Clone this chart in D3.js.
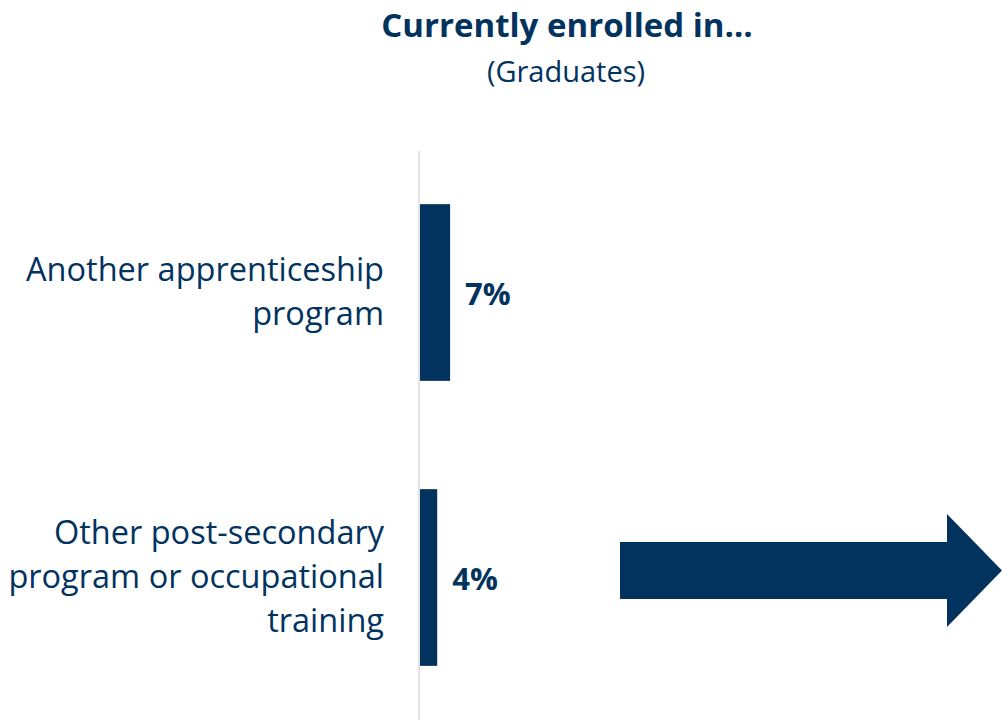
<!DOCTYPE html>
<html>
<head>
<meta charset="utf-8">
<script src="https://cdn.jsdelivr.net/npm/d3@7"></script>
<style>
  html, body { margin: 0; padding: 0; background: #ffffff; }
  svg { display: block; }
  text { font-family: "Open Sans", sans-serif; }
</style>
</head>
<body>
<svg id="chart" width="1002" height="720"></svg>
<script>
// ---- data ----
const categories = [
  ["Another apprenticeship", "program"],
  ["Other post-secondary", "program or occupational", "training"]
];
const values = [7, 4];
const valueLabels = ["7%", "4%"];
const titleText = "Currently enrolled in\u2026";
const subtitleText = "(Graduates)";

// ---- layout ----
const W = 1002, H = 720;
const navy = "#02335F";
const axisX = 420;
const plotTop = 150, plotBottom = 720;

const svg = d3.select("#chart");

const y = d3.scaleBand()
  .domain(d3.range(categories.length))
  .range([plotTop, plotBottom])
  .paddingInner(0.38)
  .paddingOuter(0.19);

const x = d3.scaleLinear().domain([0, 100]).range([axisX, axisX + 430]);

// title
svg.append("text")
  .attr("x", 567).attr("y", 37)
  .attr("text-anchor", "middle")
  .attr("font-size", 33).attr("font-weight", 700)
  .attr("fill", navy)
  .text(titleText);

svg.append("text")
  .attr("x", 566).attr("y", 82)
  .attr("text-anchor", "middle")
  .attr("font-size", 29)
  .attr("fill", navy)
  .text(subtitleText);

// bars
svg.selectAll("rect.bar")
  .data(values)
  .join("rect")
  .attr("class", "bar")
  .attr("x", x(0))
  .attr("y", (d, i) => y(i))
  .attr("width", d => x(d) - x(0))
  .attr("height", y.bandwidth())
  .attr("fill", navy);

// axis line (category axis, no ticks)
svg.append("line")
  .attr("x1", axisX - 1).attr("x2", axisX - 1)
  .attr("y1", plotTop + 1).attr("y2", plotBottom)
  .attr("stroke", "#d9d9d9").attr("stroke-width", 1.5);

// value labels
svg.selectAll("text.val")
  .data(values)
  .join("text")
  .attr("class", "val")
  .attr("x", d => x(d) + 15)
  .attr("y", (d, i) => y(i) + y.bandwidth() / 2 + 12)
  .attr("font-size", 31).attr("font-weight", 700)
  .attr("fill", navy)
  .text((d, i) => valueLabels[i]);

// category labels
const lineH = 44;
const lab = svg.selectAll("text.cat")
  .data(categories)
  .join("text")
  .attr("class", "cat")
  .attr("text-anchor", "end")
  .attr("font-size", 32.5)
  .attr("fill", navy);
lab.each(function(lines, i) {
  const t = d3.select(this);
  const cy = y(i) + y.bandwidth() / 2 + 10;
  const first = cy - (lines.length - 1) * lineH / 2;
  lines.forEach((ln, j) => {
    t.append("tspan")
      .attr("x", 384)
      .attr("y", first + j * lineH)
      .text(ln);
  });
});

// decorative arrow
const ax0 = 620, ax1 = 947, axTip = 1002, acy = 570.5, shaftHalf = 28.5, headHalf = 56.5;
svg.append("path")
  .attr("d", `M${ax0},${acy - shaftHalf} L${ax1},${acy - shaftHalf} L${ax1},${acy - headHalf} L${axTip},${acy} L${ax1},${acy + headHalf} L${ax1},${acy + shaftHalf} L${ax0},${acy + shaftHalf} Z`)
  .attr("fill", navy);
</script>
</body>
</html>
